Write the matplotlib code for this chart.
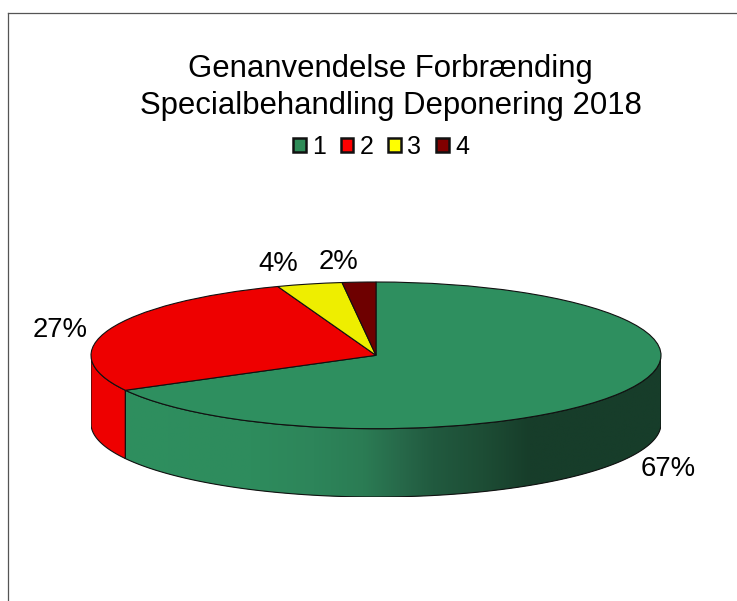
import numpy as np
from matplotlib import pyplot as plt
from matplotlib.colors import LinearSegmentedColormap
from matplotlib.lines import Line2D
from matplotlib.patches import Patch, Polygon

plt.rcParams['font.family'] = ['Liberation Sans', 'DejaVu Sans']

W, H = 737, 601

title = 'Genanvendelse Forbrænding\nSpecialbehandling Deponering 2018'
categories = ['1', '2', '3', '4']
values = [67.1, 27.3, 3.7, 1.9]
top_colors = ['#2E8F5F', '#EE0000', '#EEEE00', '#6E0000']
legend_colors = ['#2E8B57', '#FF0000', '#FFFF00', '#800000']
label_pos = [(668, 469), (60, 330), (278, 264), (338, 262)]

wall_stops = [(0.0, '#2E8F5F'), (0.235, '#2E8C5D'), (0.352, '#2D855A'), (0.445, '#2B7C54'),
              (0.514, '#27694A'), (0.575, '#215A3F'), (0.669, '#1D4D35'), (0.756, '#173D2A'),
              (1.0, '#173D2A')]
green_wall = LinearSegmentedColormap.from_list('green_wall', wall_stops)
thickness = 68 / 73  # wall height, in units of the squashed radius


def px_box(left, top, right, bottom):
    return [left / W, 1 - bottom / H, (right - left) / W, (bottom - top) / H]


fig = plt.figure(figsize=(W / 100, H / 100), dpi=100)
fig.patch.set_facecolor('white')

# chart frame, only top and left show up in the picture
fig.add_artist(Line2D([7.5 / W, 7.5 / W], [0, 1 - 12.5 / H], color='#555555', lw=0.9))
fig.add_artist(Line2D([7.5 / W, 1], [1 - 12.5 / H, 1 - 12.5 / H], color='#555555', lw=0.9))

fig.text(390.5 / W, 1 - 87.5 / H, title, ha='center', va='center', fontsize=22.4, linespacing=1.33)

ax = fig.add_axes(px_box(91, 282, 661, 497))
wedges, _ = ax.pie(values, colors=top_colors, startangle=90, counterclock=False,
                   wedgeprops={'edgecolor': '#111111', 'linewidth': 0.8, 'zorder': 5})
ax.set_aspect('auto')

# front wall of the disc, wedge by wedge
edges = 90 - 360 * np.cumsum([0] + values) / sum(values)
for i in range(len(values)):
    a0, a1 = edges[i], edges[i + 1]
    low, high = sorted((a0, a1))
    visible = [a for a in (np.arange(low, high, 0.5).tolist() + [high])
               if np.sin(np.radians(a)) <= 0]
    if len(visible) < 2:
        continue
    t = np.radians(visible)
    upper = np.column_stack([np.cos(t), np.sin(t)])
    lower = np.column_stack([np.cos(t), np.sin(t) - thickness])[::-1]
    outline = Polygon(np.vstack([upper, lower]), closed=True, facecolor=top_colors[i],
                      edgecolor='none', zorder=2)
    ax.add_patch(outline)
    if i == 0:
        grad = np.linspace(0, 1, 256).reshape(1, -1)
        x0, x1 = upper[:, 0].min(), upper[:, 0].max()
        im = ax.imshow(grad, cmap=green_wall, extent=(x0, x1, -1 - thickness, 0),
                       aspect='auto', zorder=3, interpolation='bilinear')
        im.set_clip_path(outline)
    ax.add_patch(Polygon(np.vstack([upper, lower]), closed=True, facecolor='none',
                         edgecolor='#111111', lw=0.8, zorder=4))

ax.set_xlim(-1, 1)
ax.set_ylim(-1 - thickness, 1)
ax.set_aspect('auto')
ax.axis('off')

for v, (x, y) in zip(values, label_pos):
    fig.text(x / W, 1 - y / H, '{:.0f}%'.format(v), ha='center', va='center', fontsize=19.8)

handles = [Patch(facecolor=c, edgecolor='#111111', lw=1.8) for c in legend_colors]
fig.legend(handles, categories, loc='center', bbox_to_anchor=(381 / W, 1 - 147 / H), ncol=4,
           frameon=False, fontsize=18, handlelength=0.5, handleheight=0.5,
           handletextpad=0.25, columnspacing=0.6, borderpad=0)

fig.savefig('out.png', dpi=100)
